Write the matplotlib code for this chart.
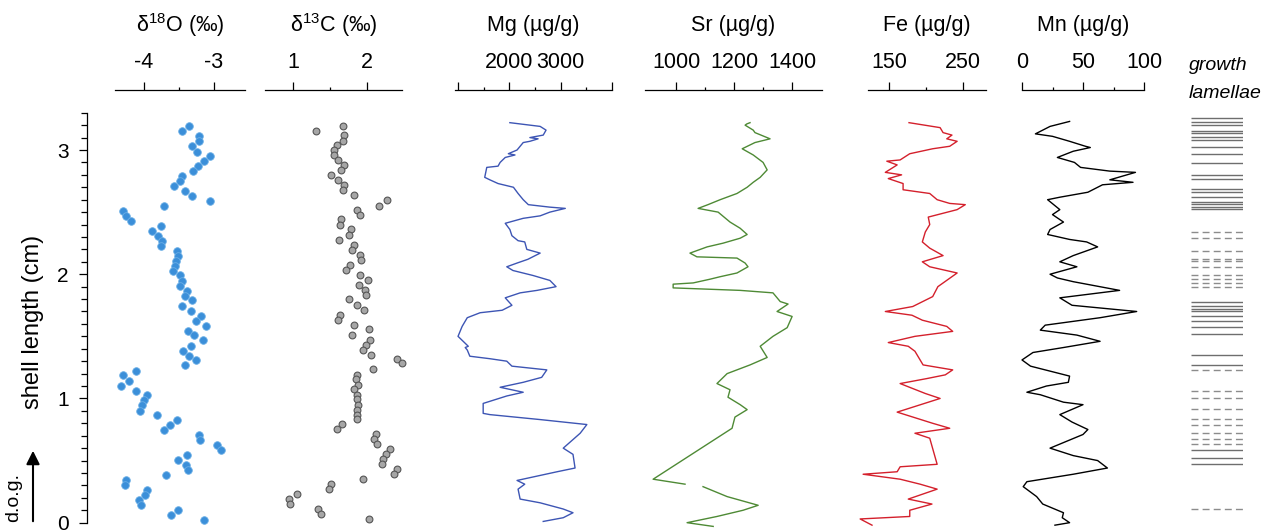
import numpy as np
import matplotlib
matplotlib.use("Agg")
import matplotlib.pyplot as plt

plt.rcParams['font.family'] = ['Liberation Sans', 'DejaVu Sans']
plt.rcParams['mathtext.fontset'] = 'custom'
plt.rcParams['mathtext.rm'] = 'Liberation Sans'
plt.rcParams['mathtext.it'] = 'Liberation Sans:italic'

# ---------------- data (shell length in cm) ----------------
d18o_depth = [3.194, 3.154, 3.113, 3.073, 3.033, 2.987, 2.953, 2.912, 2.872, 2.832,
              2.794, 2.751, 2.711, 2.671, 2.631, 2.593, 2.550, 2.513, 2.470, 2.430,
              2.389, 2.352, 2.311, 2.271, 2.228, 2.188, 2.148, 2.108, 2.068, 2.030,
              1.990, 1.949, 1.907, 1.866, 1.826, 1.789, 1.748, 1.706, 1.665, 1.625,
              1.585, 1.547, 1.507, 1.467, 1.424, 1.386, 1.344, 1.306, 1.266, 1.225,
              1.185, 1.142, 1.102, 1.064, 1.024, 0.984, 0.944, 0.901, 0.863, 0.823,
              0.783, 0.743, 0.702, 0.662, 0.622, 0.582, 0.541, 0.501, 0.461, 0.421,
              0.384, 0.340, 0.300, 0.260, 0.220, 0.179, 0.139, 0.099, 0.059, 0.019]
d18o = [-3.36, -3.46, -3.21, -3.22, -3.31, -3.24, -3.06, -3.14, -3.23, -3.30,
        -3.46, -3.49, -3.57, -3.41, -3.32, -3.05, -3.72, -4.30, -4.25, -4.19,
        -3.75, -3.88, -3.80, -3.74, -3.75, -3.53, -3.52, -3.54, -3.56, -3.59,
        -3.49, -3.46, -3.48, -3.39, -3.41, -3.32, -3.46, -3.33, -3.19, -3.26,
        -3.11, -3.37, -3.28, -3.15, -3.33, -3.44, -3.36, -3.25, -3.42, -4.11,
        -4.30, -4.21, -4.33, -4.11, -3.95, -4.00, -4.03, -4.05, -3.81, -3.53,
        -3.63, -3.72, -3.22, -3.20, -2.96, -2.90, -3.39, -3.52, -3.40, -3.37,
        -3.69, -4.26, -4.27, -3.95, -3.99, -4.07, -4.04, -3.52, -3.62, -3.14]

d13c_depth = [3.194, 3.156, 3.121, 3.076, 3.041, 3.001, 2.961, 2.920, 2.880, 2.840,
              2.800, 2.759, 2.719, 2.679, 2.639, 2.599, 2.553, 2.518, 2.478, 2.443,
              2.397, 2.363, 2.317, 2.277, 2.237, 2.196, 2.156, 2.116, 2.076, 2.035,
              1.995, 1.955, 1.915, 1.874, 1.834, 1.800, 1.754, 1.714, 1.673, 1.633,
              1.593, 1.558, 1.512, 1.472, 1.432, 1.392, 1.352, 1.317, 1.285, 1.236,
              1.191, 1.156, 1.110, 1.075, 1.030, 0.995, 0.949, 0.909, 0.869, 0.834,
              0.796, 0.754, 0.716, 0.673, 0.633, 0.593, 0.555, 0.512, 0.472, 0.432,
              0.392, 0.352, 0.314, 0.271, 0.233, 0.191, 0.150, 0.110, 0.070, 0.030]
d13c = [1.67, 1.31, 1.69, 1.67, 1.59, 1.55, 1.55, 1.61, 1.69, 1.65,
        1.52, 1.61, 1.69, 1.67, 1.83, 2.27, 2.16, 1.86, 1.91, 1.65,
        1.64, 1.79, 1.76, 1.62, 1.83, 1.80, 1.91, 1.92, 1.77, 1.71,
        1.91, 2.01, 1.89, 1.97, 1.98, 1.76, 1.87, 1.96, 1.63, 1.61,
        1.83, 2.03, 1.80, 2.04, 1.98, 1.94, 2.05, 2.41, 2.47, 2.08,
        1.86, 1.85, 1.88, 1.83, 1.87, 1.87, 1.88, 1.87, 1.86, 1.87,
        1.66, 1.60, 2.12, 2.10, 2.13, 2.31, 2.26, 2.22, 2.20, 2.41,
        2.37, 1.95, 1.51, 1.49, 1.06, 0.95, 0.96, 1.34, 1.38, 2.03]

mg_depth = [3.22, 3.19, 3.16, 3.12, 3.10, 3.09, 3.07, 3.06, 3.00, 2.97,
            2.96, 2.94, 2.90, 2.87, 2.86, 2.78, 2.76, 2.73, 2.70, 2.65,
            2.60, 2.56, 2.54, 2.53, 2.50, 2.47, 2.45, 2.41, 2.36, 2.31,
            2.27, 2.26, 2.20, 2.17, 2.12, 2.09, 2.06, 2.03, 1.99, 1.95,
            1.90, 1.87, 1.85, 1.81, 1.75, 1.71, 1.69, 1.65, 1.58, 1.50,
            1.46, 1.42, 1.41, 1.39, 1.34, 1.32, 1.30, 1.26, 1.23, 1.17,
            1.13, 1.09, 1.05, 1.02, 0.96, 0.88, 0.87, 0.83, 0.79, 0.72,
            0.60, 0.55, 0.44, 0.41, 0.34, 0.31, 0.27, 0.19, 0.16, 0.11,
            0.08, 0.04, 0.01]
mg = [2010, 2600, 2715, 2660, 2400, 2560, 2400, 2270, 2150, 1980,
      2110, 1920, 1820, 1780, 1560, 1520, 1620, 1780, 2080, 2170,
      2270, 2370, 2790, 3090, 2790, 2600, 2270, 1920, 2010, 2050,
      2170, 2300, 2340, 2600, 2360, 2150, 1950, 2070, 2460, 2790,
      2910, 2540, 2210, 1920, 2050, 1860, 1430, 1180, 1080, 1000,
      1100, 1200, 1140, 1180, 1230, 1620, 1950, 2050, 2730, 2630,
      2270, 1820, 2270, 1950, 1490, 1490, 1620, 2600, 3510, 3380,
      3050, 3240, 3280, 2930, 2150, 2300, 2170, 2210, 2600, 3050,
      3240, 3050, 2660]

nan = np.nan
sr_depth = [3.22, 3.21, 3.20, 3.16, 3.14, 3.09, 3.06, 3.01, 2.96, 2.90,
            2.84, 2.78, 2.74, 2.70, 2.65, 2.60, 2.56, 2.53, 2.50, 2.42,
            2.37, 2.32, 2.29, 2.25, 2.22, 2.17, 2.14, 2.13, 2.09, 2.06,
            2.01, 1.98, 1.96, 1.93, 1.92, 1.89, 1.87, 1.85, 1.78, 1.76,
            1.70, 1.66, 1.57, 1.50, 1.42, 1.33, 1.27, 1.20, 1.12, 1.07,
            1.01, 0.95, 0.91, 0.85, 0.76, 0.35, 0.31, nan, 0.29, 0.21,
            0.14, 0.10, 0.05, 0.00, -0.03]
sr = [1255, 1244, 1238, 1266, 1272, 1324, 1272, 1228, 1266, 1300,
      1314, 1290, 1266, 1245, 1210, 1152, 1110, 1076, 1145, 1186,
      1221, 1245, 1221, 1162, 1107, 1048, 1072, 1210, 1238, 1248,
      1210, 1152, 1117, 1059, 990, 990, 1221, 1334, 1359, 1386,
      1348, 1400, 1383, 1334, 1290, 1314, 1255, 1176, 1141, 1186,
      1179, 1221, 1245, 1203, 1193, 921, 1031, nan, 1093, 1176,
      1283, 1231, 1141, 1038, 1128]

fe_depth = [3.22, 3.18, 3.14, 3.12, 3.09, 3.07, 3.03, 3.01, 2.97, 2.92,
            2.91, 2.88, 2.82, 2.80, 2.77, 2.73, 2.68, 2.65, 2.60, 2.57,
            2.56, 2.52, 2.46, 2.40, 2.34, 2.26, 2.21, 2.15, 2.10, 2.06,
            2.01, 1.90, 1.82, 1.74, 1.70, 1.67, 1.63, 1.58, 1.54, 1.50,
            1.45, 1.42, 1.38, 1.27, 1.23, 1.19, 1.16, 1.12, 1.04, 1.00,
            0.89, 0.80, 0.76, 0.72, 0.68, 0.47, 0.45, 0.41, 0.39, 0.35,
            0.31, 0.27, 0.19, 0.15, 0.10, 0.05, 0.03, -0.02]
fe = [177, 219, 223, 235, 228, 242, 232, 209, 178, 165,
      147, 161, 145, 167, 149, 169, 169, 205, 215, 232,
      253, 242, 203, 205, 199, 195, 205, 223, 195, 205,
      242, 216, 209, 182, 145, 181, 195, 228, 236, 185,
      149, 176, 185, 196, 236, 226, 201, 165, 199, 219,
      161, 209, 232, 185, 205, 215, 165, 161, 115, 165,
      192, 215, 176, 208, 178, 178, 111, 127]

mn_depth = [3.23, 3.19, 3.13, 3.11, 3.07, 3.03, 3.02, 2.99, 2.94, 2.90,
            2.86, 2.83, 2.82, 2.76, 2.74, 2.72, 2.66, 2.62, 2.60, 2.52,
            2.48, 2.42, 2.36, 2.32, 2.28, 2.26, 2.22, 2.15, 2.10, 2.06,
            2.00, 1.97, 1.94, 1.87, 1.81, 1.75, 1.70, 1.65, 1.59, 1.55,
            1.51, 1.46, 1.41, 1.37, 1.31, 1.26, 1.22, 1.18, 1.13, 1.10,
            1.05, 1.03, 0.97, 0.95, 0.87, 0.81, 0.75, 0.71, 0.60, 0.54,
            0.50, 0.44, 0.39, 0.33, 0.29, 0.21, 0.15, 0.08, 0.04, 0.00, -0.02]
mn = [39, 23, 11, 25, 39, 52, 56, 42, 29, 43,
      48, 72, 93, 72, 91, 66, 54, 31, 21, 31,
      25, 34, 23, 21, 39, 53, 62, 42, 31, 45,
      23, 29, 42, 80, 31, 41, 94, 64, 19, 15,
      45, 64, 34, 9, 0, 7, 23, 39, 38, 20,
      4, 15, 34, 50, 31, 41, 54, 50, 23, 42,
      62, 70, 42, 4, 1, 12, 17, 34, 33, 39, 27]

lamellae_solid = [3.256, 3.223, 3.202, 3.156, 3.135, 3.108, 3.081, 3.028, 2.966, 2.899,
                  2.800, 2.765, 2.684, 2.658, 2.625, 2.585, 2.564, 2.540, 2.524,
                  1.775, 1.746, 1.719, 1.706, 1.660, 1.622, 1.574, 1.521,
                  1.346, 1.271, 0.582, 0.520, 0.472]
lamellae_dashed = [2.339, 2.295, 2.183, 2.121, 2.108, 2.057, 1.995, 1.963, 1.928, 1.896,
                   1.231, 1.056, 1.003, 0.917, 0.834, 0.788, 0.721, 0.676, 0.633, 0.113]

# ---------------- layout ----------------
W, H = 1279, 532
fig = plt.figure(figsize=(W / 100, H / 100), dpi=100)

top_px = 90                      # y of the top axis lines
ax_h = (H - top_px) / H
ylim = (-0.075, 3.483)

def panel(x0, x1):
    ax = fig.add_axes([x0 / W, 0, (x1 - x0) / W, ax_h])
    ax.set_ylim(ylim)
    ax.patch.set_alpha(0)
    for s in ['left', 'right', 'bottom']:
        ax.spines[s].set_visible(False)
    ax.spines['top'].set_linewidth(0.9)
    ax.set_yticks([])
    ax.xaxis.tick_top()
    ax.tick_params(axis='x', which='major', direction='out', length=6, width=0.9,
                   labelsize=15.5, pad=6)
    ax.tick_params(axis='x', which='minor', direction='out', length=2.5, width=0.9)
    return ax

def title(ax, s):
    ax.text(0.5, 1 + 65 / (H - top_px), s, transform=ax.transAxes,
            ha='center', va='center', fontsize=15.5)

# delta 18O
ax = panel(115, 245)
ax.set_xlim(-4.414, -2.557)
ax.set_xticks([-4, -3])
ax.set_xticklabels(['-4', '-3'])
ax.set_xticks([-3.5], minor=True)
ax.scatter(d18o, d18o_depth, s=30, color='#3b8fd9', edgecolors='#6aaee6',
           linewidths=0.6, zorder=3, clip_on=False)
title(ax, r'δ$^{18}$O (‰)')

# delta 13C
ax = panel(265, 402)
ax.set_xlim(0.622, 2.473)
ax.set_xticks([1, 2])
ax.set_xticks([1.5], minor=True)
ax.scatter(d13c, d13c_depth, s=24, color='#a6a6a6', edgecolors='#555555',
           linewidths=0.8, zorder=3, clip_on=False)
title(ax, r'δ$^{13}$C (‰)')

# Mg
ax = panel(455, 612)
ax.set_xlim(941, 4000)
ax.set_xticks([1000, 2000, 3000, 4000])
ax.set_xticklabels(['', '2000', '3000', ''])
ax.set_xticks([1500, 2500, 3500], minor=True)
ax.plot(mg, mg_depth, color='#3d55b4', lw=1.0, clip_on=False)
title(ax, 'Mg (µg/g)')

# Sr
ax = panel(645, 822)
ax.set_xlim(893, 1503)
ax.set_xticks([1000, 1200, 1400])
ax.set_xticks([1100, 1300], minor=True)
ax.plot(sr, sr_depth, color='#4e8a35', lw=1.0, clip_on=False)
title(ax, 'Sr (µg/g)')

# Fe
ax = panel(868, 986)
ax.set_xlim(121.6, 281)
ax.set_xticks([150, 250])
ax.set_xticks([200], minor=True)
ax.plot(fe, fe_depth, color='#d4202c', lw=1.0, clip_on=False)
title(ax, 'Fe (µg/g)')

# Mn
ax = panel(1022, 1144)
ax.set_xlim(0, 100)
ax.set_xticks([0, 50, 100])
ax.set_xticks([25, 75], minor=True)
ax.plot(mn, mn_depth, color='black', lw=1.0, clip_on=False)
title(ax, 'Mn (µg/g)')

# growth lamellae
ax = fig.add_axes([1191 / W, 0, 52 / W, ax_h])
ax.set_ylim(ylim)
ax.set_xlim(0, 1)
ax.axis('off')
ax.hlines(lamellae_solid, 0, 1, color='#6e6e6e', lw=1.0)
ax.hlines(lamellae_dashed, 0, 1, color='#8c8c8c', lw=1.0, linestyles=(0, (5, 3)))
fig.text(1189 / W, 1 - 65 / H, 'growth', ha='left', va='center', fontsize=14, style='italic')
fig.text(1189 / W, 1 - 93 / H, 'lamellae', ha='left', va='center', fontsize=14, style='italic')

# shell length axis
ay = fig.add_axes([87 / W, 0, 10 / W, ax_h])
ay.set_ylim(ylim)
ay.patch.set_alpha(0)
for s in ['top', 'right', 'bottom']:
    ay.spines[s].set_visible(False)
ay.spines['left'].set_bounds(0, 3.3)
ay.spines['left'].set_linewidth(0.9)
ay.set_xticks([])
ay.set_yticks([0, 1, 2, 3])
ay.set_yticks(np.arange(0, 3.31, 0.1), minor=True)
ay.tick_params(axis='y', which='major', direction='out', length=6, width=0.9,
               labelsize=15, pad=7)
ay.tick_params(axis='y', which='minor', direction='out', length=4, width=0.9)

fig.text(33 / W, 1 - 322 / H, 'shell length (cm)', rotation=90, ha='center',
         va='center', fontsize=17)
fig.text(14 / W, 1 - 497 / H, 'd.o.g.', rotation=90, ha='center', va='center', fontsize=14)
fig.patches.append(matplotlib.patches.FancyArrowPatch(
    (33 / W, 8 / H), (33 / W, 84 / H), transform=fig.transFigure,
    arrowstyle='-|>', mutation_scale=20, color='black', lw=1.5))

fig.savefig('out.png', dpi=100)
